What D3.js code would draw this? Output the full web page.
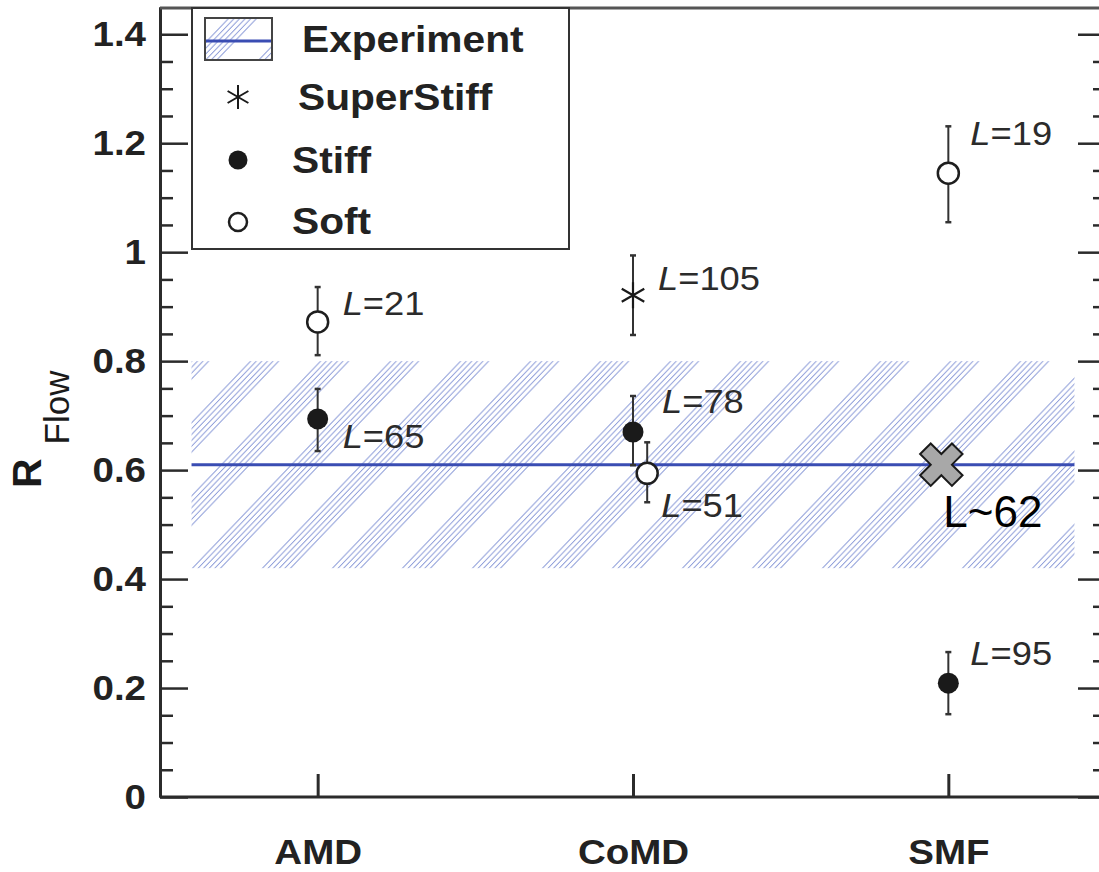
<!DOCTYPE html>
<html>
<head>
<meta charset="utf-8">
<script src="https://cdn.jsdelivr.net/npm/d3@7"></script>
<style>
  body { margin: 0; background: #fff; }
  svg { display: block; font-family: "Liberation Sans", Arial, sans-serif; }
</style>
</head>
<body>
<script>
var width = 1099, height = 872

// data
var models = ["AMD", "CoMD", "SMF"]
var yMajor = [0, 0.2, 0.4, 0.6, 0.8, 1, 1.2, 1.4]

var superStiff = [
  {model: "CoMD", value: 0.921, lo: 0.848, hi: 0.994, L: 105}
]
var stiff = [
  {model: "AMD",  value: 0.694, lo: 0.635, hi: 0.749, L: 65},
  {model: "CoMD", value: 0.670, lo: 0.609, hi: 0.736, L: 78},
  {model: "SMF",  value: 0.209, lo: 0.152, hi: 0.266, L: 95}
]
var soft = [
  {model: "AMD",  value: 0.872, lo: 0.811, hi: 0.936, L: 21},
  {model: "CoMD", value: 0.594, lo: 0.541, hi: 0.651, L: 51},
  {model: "SMF",  value: 1.145, lo: 1.055, hi: 1.231, L: 19}
]
var experiment = {value: 0.61, lo: 0.42, hi: 0.80}
var estimate = {model: "SMF", value: 0.61, label: "L~62"}

var SX = 1.1 // the original figure is a bit stretched sideways

var x = d3.scalePoint()
    .domain(models)
    .range([160, 1106])
    .padding(0.5)

var y = d3.scaleLinear()
    .domain([0, 1.45])
    .range([797, 7])

var svg = d3.select("body").append("svg")
    .attr("width", width)
    .attr("height", height)

// hatch pattern for the experimental band
var bandLeft = x(models[0]) - 0.4 * x.step()
var bandRight = x(models[models.length - 1]) + 0.4 * x.step()
var skewRad = -Math.atan(1 / 1.045)
var phase = ((bandLeft - y(experiment.lo) * Math.tan(skewRad)) % 70 + 70) % 70

var pat = svg.append("defs").append("pattern")
    .attr("id", "hatch")
    .attr("patternUnits", "userSpaceOnUse")
    .attr("width", 70)
    .attr("height", 20)
    .attr("patternTransform", "skewX(" + (skewRad * 180 / Math.PI) + ") translate(" + phase + ",0)")
d3.range(6).forEach(function(i) {
  pat.append("line")
    .attr("x1", 1 + i * 5.6).attr("x2", 1 + i * 5.6)
    .attr("y1", 0).attr("y2", 20)
    .attr("stroke", "#91a0da")
    .attr("stroke-width", 1.4)
})

svg.append("rect") //BAND
    .attr("x", bandLeft)
    .attr("y", y(experiment.hi))
    .attr("width", bandRight - bandLeft)
    .attr("height", y(experiment.lo) - y(experiment.hi))
    .attr("fill", "url(#hatch)")

svg.append("line") //EXPERIMENT LINE
    .attr("x1", bandLeft)
    .attr("x2", bandRight)
    .attr("y1", y(experiment.value))
    .attr("y2", y(experiment.value))
    .attr("stroke", "#3a4db3")
    .attr("stroke-width", 3)

// AXES
var minor = d3.range(0, 1.45, 0.05).filter(function(v) {
  return yMajor.every(function(m) { return Math.abs(m - v) > 1e-6 })
})

function styleAxis(g, w) {
  g.select(".domain").attr("stroke", "#2b2b2b").attr("stroke-width", 3)
  g.selectAll(".tick line").attr("stroke", "#2b2b2b").attr("stroke-width", w)
}

svg.append("g")
    .attr("transform", "translate(160,0)")
    .call(d3.axisLeft(y).tickValues(minor).tickSize(-13).tickSizeOuter(0).tickFormat(""))
    .call(styleAxis, 2.5)

var yAxis = svg.append("g")
    .attr("transform", "translate(160,0)")
    .call(d3.axisLeft(y).tickValues(yMajor).tickSize(-28).tickSizeOuter(0).tickPadding(14 / SX)
      .tickFormat(d3.format("~f")))
    .call(styleAxis, 2.5)
yAxis.selectAll("text")
    .attr("transform", "scale(" + SX + ",1)")
    .attr("font-size", 35)
    .attr("font-weight", "bold")
    .attr("fill", "#222")

svg.append("g")
    .attr("transform", "translate(1106,0)")
    .call(d3.axisRight(y).tickValues(minor).tickSize(-13).tickSizeOuter(0).tickFormat(""))
    .call(styleAxis, 2.5)
svg.append("g")
    .attr("transform", "translate(1106,0)")
    .call(d3.axisRight(y).tickValues(yMajor).tickSize(-28).tickSizeOuter(0).tickFormat(""))
    .call(styleAxis, 2.5)

var xAxis = svg.append("g")
    .attr("transform", "translate(0,797)")
    .call(d3.axisBottom(x).tickSize(-23).tickSizeOuter(0).tickPadding(42))
    .call(styleAxis, 3)
xAxis.select(".domain").attr("d", "M160,0H1106")
xAxis.selectAll("text")
    .attr("transform", "scale(" + SX + ",1)")
    .attr("font-size", 35)
    .attr("font-weight", "bold")
    .attr("fill", "#222")

svg.append("line") //TOP FRAME
    .attr("x1", 160).attr("x2", 1106)
    .attr("y1", 8).attr("y2", 8)
    .attr("stroke", "#555")
    .attr("stroke-width", 3)

var title = svg.append("text") //Y TITLE
    .attr("transform", "translate(41,488) rotate(-90)")
    .attr("fill", "#1a1a1a")
title.append("tspan").text("R").attr("font-size", 41).attr("font-weight", "bold")
title.append("tspan").text("Flow").attr("font-size", 35).attr("dx", 14).attr("dy", 28)

// POINTS
var dodge = {"soft-CoMD": 0.045}
var labelPos = {
  "soft-AMD": [25, -7], "stiff-AMD": [25, 29],
  "super-CoMD": [25, -5], "stiff-CoMD": [29, -19], "soft-CoMD": [14, 44],
  "soft-SMF": [22, -28], "stiff-SMF": [22, -18]
}

function px(d, key) {
  return x(d.model) + (dodge[key + "-" + d.model] || 0) * x.step()
}

function drawSeries(data, key) {
  var g = svg.append("g").selectAll("g")
      .data(data)
    .enter().append("g")
      .attr("transform", function(d) { return "translate(" + px(d, key) + ",0)" })

  g.append("line") //ERROR BAR
    .attr("x1", 0).attr("x2", 0)
    .attr("y1", function(d) { return y(d.lo) })
    .attr("y2", function(d) { return y(d.hi) })
    .attr("stroke", "#333")
    .attr("stroke-width", 2)
  g.selectAll(".cap")
    .data(function(d) { return [d.lo, d.hi] })
    .enter().append("line")
    .attr("x1", -3).attr("x2", 3)
    .attr("y1", function(v) { return y(v) })
    .attr("y2", function(v) { return y(v) })
    .attr("stroke", "#333")
    .attr("stroke-width", 2.5)

  var t = g.append("text") //L LABEL
    .attr("transform", function(d) {
      var o = labelPos[key + "-" + d.model]
      return "translate(" + o[0] + "," + (y(d.value) + o[1]) + ") scale(" + SX + ",1)"
    })
    .attr("font-size", 33)
    .attr("fill", "#2b2b2b")
  t.append("tspan").text("L").attr("font-style", "italic")
  t.append("tspan").text(function(d) { return "=" + d.L })
  return g
}

drawSeries(soft, "soft").append("circle")
    .attr("cy", function(d) { return y(d.value) })
    .attr("r", 10.5)
    .attr("fill", "#fff")
    .attr("stroke", "#1e1e1e")
    .attr("stroke-width", 2.5)

drawSeries(stiff, "stiff").append("circle")
    .attr("cy", function(d) { return y(d.value) })
    .attr("r", 10.5)
    .attr("fill", "#1a1a1a")

function asterisk(r) {
  var p = ""
  ;[90, 30, -30].forEach(function(a) {
    var c = Math.cos(a * Math.PI / 180) * r, s = Math.sin(a * Math.PI / 180) * r
    p += "M" + (-c) + "," + s + "L" + c + "," + (-s)
  })
  return p
}

drawSeries(superStiff, "super").append("path")
    .attr("transform", function(d) { return "translate(0," + y(d.value) + ")" })
    .attr("d", asterisk(13))
    .attr("stroke", "#1a1a1a")
    .attr("stroke-width", 2.2)

svg.append("path") //ESTIMATE
    .attr("transform", "translate(" + (x(estimate.model) - 7) + "," + y(estimate.value) + ") rotate(45)")
    .attr("d", d3.symbol(d3.symbolCross, 1125)())
    .attr("fill", "#a8a8a8")
    .attr("stroke", "#1a1a1a")
    .attr("stroke-width", 2)

svg.append("text")
    .text(estimate.label)
    .attr("x", x(estimate.model) - 5)
    .attr("y", y(estimate.value) + 62)
    .attr("font-size", 44)
    .attr("fill", "#000")

// LEGEND
var legend = svg.append("g")
legend.append("rect")
    .attr("x", 192).attr("y", 8)
    .attr("width", 377).attr("height", 241)
    .attr("fill", "#fff")
    .attr("stroke", "#333")
    .attr("stroke-width", 2)

legend.append("rect")
    .attr("x", 205).attr("y", 18)
    .attr("width", 67).attr("height", 42)
    .attr("fill", "url(#hatch)")
    .attr("stroke", "#444")
    .attr("stroke-width", 2)
legend.append("line")
    .attr("x1", 206).attr("x2", 271)
    .attr("y1", 41).attr("y2", 41)
    .attr("stroke", "#3a4db3")
    .attr("stroke-width", 3)

legend.append("path")
    .attr("transform", "translate(238,97)")
    .attr("d", asterisk(12))
    .attr("stroke", "#1a1a1a")
    .attr("stroke-width", 2)
legend.append("circle")
    .attr("cx", 238).attr("cy", 160).attr("r", 9.5)
    .attr("fill", "#1a1a1a")
legend.append("circle")
    .attr("cx", 238).attr("cy", 222).attr("r", 9)
    .attr("fill", "#fff")
    .attr("stroke", "#1e1e1e")
    .attr("stroke-width", 2.5)

var legendText = [["Experiment", 302, 52], ["SuperStiff", 298, 110], ["Stiff", 292, 173], ["Soft", 292, 234]]
legend.selectAll(".lt")
    .data(legendText)
  .enter().append("text")
    .text(function(d) { return d[0] })
    .attr("transform", function(d) { return "translate(" + d[1] + "," + d[2] + ") scale(" + SX + ",1)" })
    .attr("font-size", 37)
    .attr("font-weight", "bold")
    .attr("fill", "#222")
</script>
</body>
</html>
